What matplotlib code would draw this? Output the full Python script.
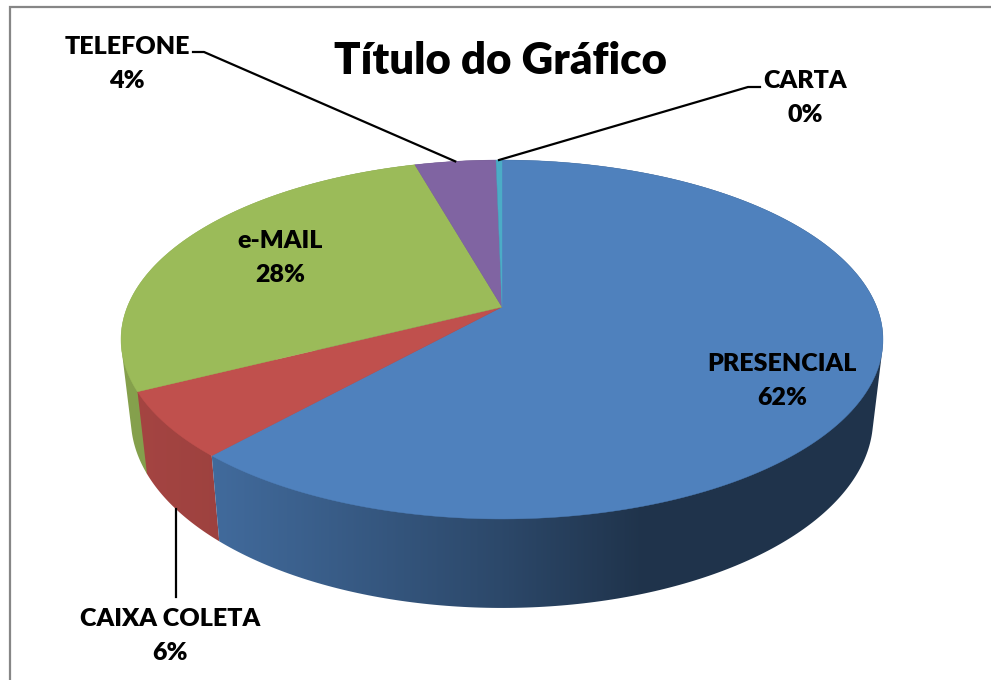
import numpy as np
import matplotlib
matplotlib.use('Agg')
import matplotlib.pyplot as plt
from matplotlib.colors import to_rgb
from matplotlib.patches import Polygon

categorias = ['PRESENCIAL', 'CAIXA COLETA', 'e-MAIL', 'TELEFONE', 'CARTA']
valores = [61.7, 5.9, 28.0, 4.1, 0.3]
cores = ['#4f81bd', '#c0504d', '#9bbb59', '#8064a2', '#4bacc6']
titulo = 'Título do Gráfico'

# geometrie de la "3D" en pixels
cx, cy = 502, 307
k = 0.181
A = 173.6
B = 374.7
# le bas du cylindre n'a pas tout a fait la meme ellipse
B_bas = 365
A_bas = 183
cy_bas = 384.5

plt.rcParams['font.family'] = ['Lato', 'DejaVu Sans']

fig = plt.figure(figsize=(9.91, 6.8), dpi=100)
ax = fig.add_axes([0, 0, 1, 1])


def rim(theta, bas=False):
    u = np.sin(theta)
    v = np.cos(theta)
    w = 1 + k * v
    if bas:
        return cx + B_bas * u / w, cy_bas - A_bas * v / w
    return cx + B * u / w, cy - A * v / w


def ombre(x):
    # le coté s'assombrit vers la droite
    return np.interp(x, [130, 220, 330, 500, 640, 883], [0.86, 0.82, 0.72, 0.56, 0.40, 0.40])


def enveloppe(pts):
    # enveloppe convexe, pour fermer la silhouette entre le haut et le bas
    pts = sorted(set(map(tuple, pts)))

    def demi(liste):
        h = []
        for p in liste:
            while len(h) >= 2 and (h[-1][0] - h[-2][0]) * (p[1] - h[-2][1]) - (h[-1][1] - h[-2][1]) * (p[0] - h[-2][0]) <= 0:
                h.pop()
            h.append(p)
        return h[:-1]

    return np.array(demi(pts) + demi(pts[::-1]))


total = sum(valores)
bornes = 2 * np.pi * np.cumsum([0] + valores) / total

# cotés, un degradé coupé a la forme de chaque part
# on part du fond pour finir par la part de devant
xs = np.arange(0, 991)
for i in reversed(range(len(valores))):
    t = np.linspace(bornes[i], bornes[i + 1], 300)
    x1, y1 = rim(t)
    x2, y2 = rim(t, bas=True)
    base = np.array(to_rgb(cores[i]))
    grad = base[None, None, :] * ombre(xs)[None, :, None]
    im = ax.imshow(grad, extent=[0, 991, 680, 0], aspect='auto', zorder=2, interpolation='bilinear')
    forme = Polygon(enveloppe(np.c_[np.r_[x1, x2], np.r_[y1, y2]]), closed=True, transform=ax.transData)
    im.set_clip_path(forme)

# dessus
for i in range(len(valores)):
    t = np.linspace(bornes[i], bornes[i + 1], 200)
    x, y = rim(t)
    ax.fill(np.r_[cx, x], np.r_[cy, y], color=cores[i], lw=0.3, zorder=3)

# cadre
ax.plot([10, 10, 991], [680, 7, 7], color='#868686', lw=1.6, zorder=1, solid_joinstyle='miter')

# traits de rappel
mid = (bornes[:-1] + bornes[1:]) / 2
x_tel, y_tel = rim(mid[3])
ax.plot([193, 204, x_tel], [52, 52, y_tel], color='black', lw=1.6, zorder=4)
x_car, y_car = rim(mid[4])
ax.plot([x_car, 748, 760], [y_car, 87, 87], color='black', lw=1.6, zorder=4)
x_cx, y_cx = rim(mid[1], bas=True)
ax.plot([x_cx, x_cx], [y_cx, 597], color='black', lw=1.6, zorder=4)

# etiquettes
pos_etiq = [(782, 381), (170, 636), (280, 258), (127, 64), (805, 98)]
for nom, val, p in zip(categorias, valores, pos_etiq):
    ax.text(p[0], p[1], f'{nom}\n{val / total * 100:.0f}%', ha='center', va='center',
            fontsize=18, fontweight=800, color='black', linespacing=1.72, zorder=5)

ax.text(501, 61, titulo, ha='center', va='center', fontsize=31.5, fontweight=800, color='black', zorder=5)

ax.set_xlim(0, 991)
ax.set_ylim(680, 0)
ax.axis('off')

fig.savefig('out.png', dpi=100)
